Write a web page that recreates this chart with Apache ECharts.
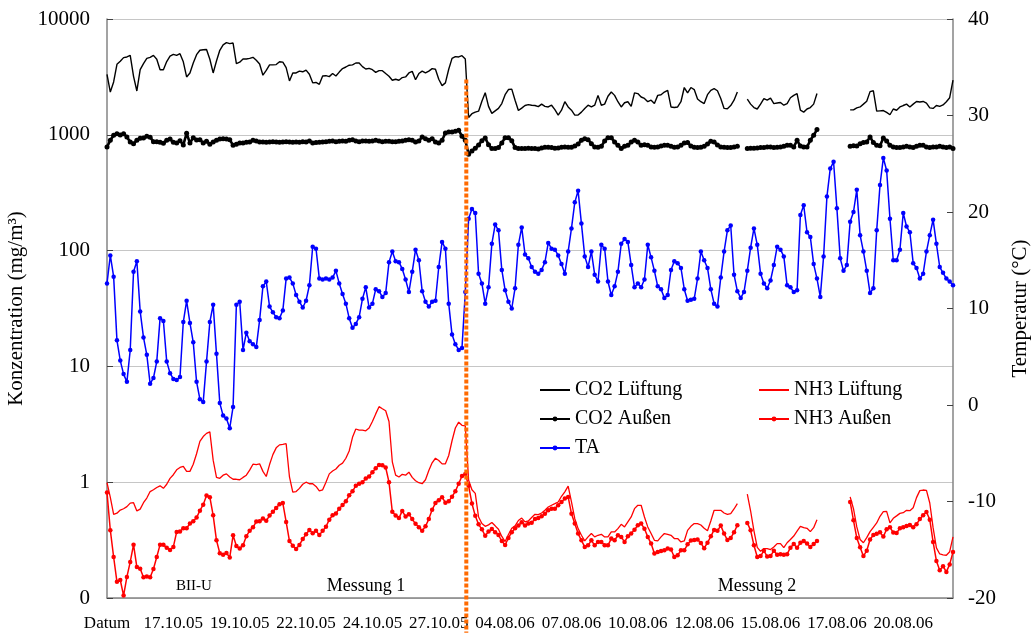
<!DOCTYPE html>
<html>
<head>
<meta charset="utf-8">
<script src="https://cdn.jsdelivr.net/npm/echarts@6/dist/echarts.min.js"></script>
<style>
html,body{margin:0;padding:0;background:#fff;}
#chart{width:1032px;height:637px;}
</style>
</head>
<body>
<div id="chart"></div>
<script>
// Tick labels of the time axis: one label every LABEL_STEP readings (3-hour readings)
const tickLabels = ['Datum','17.10.05','19.10.05','22.10.05','24.10.05','27.10.05','04.08.06','07.08.06','10.08.06','12.08.06','15.08.06','17.08.06','20.08.06'];
const LABEL_STEP = 20;
const N = 256;
// last reading of Messung 1 (the break between both campaigns)
const splitIndex = 108;

// CO2 concentration in the exhaust air (mg/m³)
const co2Lueftung = [3330,2340,2860,4060,4310,4640,4700,4850,3200,2390,
3650,4120,4570,4670,4850,4490,3650,3650,4290,4770,
4950,4850,5020,4270,3160,3420,4170,4920,5370,5430,
5460,4490,3420,4340,5370,5970,6250,6130,6200,4120,
4240,4520,4520,4570,4670,4400,4090,3270,3600,4020,
4020,4040,4270,4240,3800,2920,3420,3420,3550,3500,
3620,3330,2810,2830,2730,3220,3240,3180,3380,3220,
3480,3730,3850,3990,4020,4170,4170,3880,3700,3750,
3650,3460,3580,3580,3380,3200,2960,3020,2960,3120,
3160,3420,3530,2990,3380,3550,3420,3550,3730,3680,
3020,2660,2810,3680,4570,4730,4700,4820,4520,1410,
1520,1570,1600,1950,2310,1760,1530,1610,1690,1860,
2220,2460,2480,1990,1620,1700,1790,1820,1800,1790,
1750,1840,1760,1740,1800,1650,1480,1630,1930,1740,
1630,1480,1480,1570,1690,1800,1740,1800,2190,1800,
1840,2150,2340,2190,1930,1740,1890,1930,1760,2300,
2270,2120,2060,1930,1990,1860,2190,2220,2340,2420,
1740,1720,1740,1930,2560,2300,2560,2460,2040,1930,
1860,2220,2420,2500,2400,2060,1690,1680,1790,1990,
2340,null,null,2030,1840,1720,1670,1840,2050,1990,
2070,1860,1880,1900,1800,1860,2090,2190,2270,1630,
1570,1670,1720,1840,2270,null,null,null,null,null,
null,null,null,null,1640,1640,1710,1740,1840,1950,
2360,2400,1600,1610,1620,1560,1490,1670,1630,1740,
1790,1840,1740,1840,1940,1920,1940,1880,1710,1690,
1790,1760,1810,1930,2090,2960];

// CO2 concentration outside (mg/m³)
const co2Aussen = [785,896,990,1023,996,1023,958,867,839,896,
932,938,970,952,873,873,861,845,896,920,
861,850,890,817,1030,850,945,902,908,850,
878,828,867,896,920,926,920,908,811,828,
850,850,861,867,896,884,867,867,861,867,
873,867,861,867,873,867,861,867,861,873,
867,884,850,856,861,867,873,879,884,873,
879,884,879,896,908,884,873,884,884,879,
884,896,884,873,879,879,873,873,879,884,
896,908,896,867,884,958,926,896,926,867,
850,896,1037,1058,1058,1072,1095,970,896,679,
726,765,817,890,939,822,760,760,775,850,
945,945,890,775,760,760,760,765,760,760,
755,770,780,780,775,765,770,780,785,780,
780,800,833,896,926,908,839,785,780,795,
884,945,945,867,811,760,795,811,867,896,
867,811,822,811,785,780,785,800,811,811,
795,780,785,811,850,856,800,780,775,780,
795,833,879,867,817,785,780,775,775,785,
795,null,null,760,765,765,770,775,775,785,
785,775,780,785,795,811,811,785,896,800,
785,785,896,990,1110,null,null,null,null,null,
null,null,null,null,795,806,800,839,856,867,
958,856,811,806,939,884,811,785,775,775,
785,795,785,775,795,811,811,785,775,785,
785,795,785,775,785,760];

// Outside air temperature TA (°C)
const ta = [12.6,15.5,13.3,6.7,4.6,3.2,2.4,5.7,13.8,14.9,
9.7,7.0,5.2,2.2,2.8,4.5,9.0,8.7,4.5,3.3,
2.7,2.6,2.9,8.6,10.8,8.5,6.5,2.4,0.6,0.3,
4.5,8.6,10.4,5.3,0.2,-1.1,-1.4,-2.4,-0.2,10.4,
10.7,5.7,7.5,6.6,6.3,6.0,8.8,12.3,12.8,10.2,
9.6,9.1,9.0,9.8,13.1,13.2,12.6,11.4,10.7,10.1,
10.8,12.4,16.4,16.2,13.1,13.0,13.1,13.0,13.2,13.9,
12.6,11.5,10.5,9.0,8.0,8.4,9.1,11.0,12.2,10.1,
10.5,12.0,11.8,11.2,11.6,14.8,15.9,14.9,14.8,14.1,
13.0,11.7,13.8,16.1,15.0,11.8,10.7,10.2,10.7,10.8,
14.3,16.9,16.2,10.5,7.3,6.3,5.7,5.9,11.7,19.3,
20.3,19.9,13.6,12.6,10.5,12.2,16.7,18.7,18.1,14.0,
11.9,10.7,10.0,12.1,16.6,18.4,15.6,15.2,14.3,13.8,
13.6,14.0,14.8,16.8,16.2,16.1,15.5,14.6,13.6,15.9,
18.3,21.0,22.2,18.8,15.4,14.3,15.9,13.5,12.8,16.6,
16.2,12.8,11.4,12.3,13.8,16.7,17.2,16.9,14.5,12.2,
12.6,12.2,13.0,16.6,15.3,13.9,12.3,12.0,11.1,11.4,
14.0,14.9,14.7,14.2,12.0,10.8,10.9,11.0,13.1,15.9,
15.0,14.2,12.0,10.5,10.2,13.2,15.9,18.1,18.6,13.5,
11.8,11.1,11.7,13.9,16.3,18.3,16.6,13.6,12.6,12.1,
12.9,14.5,16.4,16.1,15.4,12.4,12.2,11.7,11.9,19.7,
20.7,17.9,17.4,14.6,13.1,11.2,15.4,21.6,24.5,25.2,
20.4,15.2,13.9,14.5,19.0,20.0,22.3,17.6,15.9,13.9,
11.6,12.1,18.1,22.8,25.6,24.3,19.3,15.0,15.0,16.1,
19.9,18.5,17.9,14.7,14.2,13.1,13.6,15.9,17.6,19.2,
16.7,14.3,13.7,13.1,12.8,12.4];

// NH3 concentration in the exhaust air (mg/m³)
const nh3Lueftung = [0.99,0.74,0.527,0.54,0.575,0.59,0.615,0.66,0.665,0.565,
0.585,0.665,0.73,0.83,0.86,0.90,0.93,0.885,0.96,1.08,
1.16,1.28,1.34,1.37,1.24,1.24,1.43,1.76,2.25,2.48,
2.64,2.72,1.55,1.10,1.08,1.15,1.18,1.11,1.06,1.06,
1.05,1.10,1.15,1.27,1.43,1.42,1.44,1.24,1.12,1.42,
1.73,1.98,2.10,2.12,2.15,1.11,0.82,0.83,0.885,0.96,
1.0,0.97,0.97,0.92,0.84,0.86,1.0,1.18,1.25,1.30,
1.40,1.46,1.61,1.86,2.44,2.88,2.82,2.82,2.78,2.94,
3.34,3.89,4.49,4.31,4.14,3.34,1.50,1.15,1.11,1.17,
1.15,1.22,1.10,1.03,0.99,0.97,1.05,1.26,1.47,1.61,
1.54,1.44,1.44,1.70,2.28,2.94,3.30,3.10,3.06,1.04,
0.86,0.80,0.50,0.44,0.416,0.428,0.448,0.42,0.392,0.34,
0.307,0.353,0.40,0.42,0.467,0.49,0.454,0.463,0.495,0.528,
0.525,0.542,0.572,0.611,0.632,0.653,0.675,0.756,0.826,0.926,
0.675,0.484,0.397,0.348,0.311,0.337,0.36,0.337,0.348,0.355,
0.337,0.337,0.372,0.372,0.397,0.433,0.411,0.454,0.501,0.591,
0.632,0.632,0.501,0.411,0.36,0.315,0.311,0.337,0.36,0.355,
0.348,0.326,0.326,0.305,0.311,0.384,0.416,0.439,0.439,0.427,
0.40,0.381,0.462,0.572,0.572,0.572,0.542,0.528,0.535,0.587,
0.653,null,null,0.787,0.564,0.38,0.274,0.253,0.267,0.267,
0.262,0.276,0.295,0.295,0.272,0.30,0.32,0.343,0.378,0.416,
0.405,0.40,0.374,0.405,0.475,null,null,null,null,null,
null,null,null,null,0.746,0.59,0.411,0.32,0.30,0.332,
0.374,0.408,0.445,0.508,0.557,0.56,0.445,0.488,0.512,0.538,
0.545,0.572,0.568,0.602,0.736,0.846,0.856,0.851,0.661,0.405,
0.271,0.24,0.236,0.234,0.251,0.337];

// NH3 concentration outside (mg/m³)
const nh3Aussen = [0.813,0.385,0.226,0.138,0.143,0.105,0.152,0.205,0.289,0.185,
0.179,0.151,0.153,0.151,0.178,0.226,0.289,0.289,0.271,0.26,
0.276,0.372,0.375,0.40,0.40,0.44,0.46,0.495,0.568,0.64,
0.766,0.742,0.518,0.315,0.244,0.236,0.245,0.224,0.348,0.281,
0.267,0.285,0.342,0.38,0.408,0.457,0.46,0.485,0.464,0.515,
0.556,0.60,0.645,0.66,0.454,0.31,0.283,0.265,0.287,0.323,
0.355,0.386,0.362,0.38,0.35,0.38,0.412,0.475,0.518,0.538,
0.591,0.636,0.683,0.771,0.835,0.934,0.97,1.0,1.074,1.12,
1.22,1.32,1.41,1.40,1.34,1.0,0.556,0.515,0.49,0.565,
0.505,0.53,0.48,0.437,0.408,0.38,0.416,0.48,0.578,0.66,
0.70,0.742,0.665,0.683,0.75,0.835,0.97,1.13,1.18,0.93,
0.655,0.512,0.433,0.392,0.345,0.375,0.394,0.37,0.35,0.31,
0.287,0.33,0.37,0.40,0.422,0.45,0.422,0.44,0.446,0.48,
0.49,0.508,0.535,0.572,0.591,0.591,0.632,0.675,0.722,0.746,
0.535,0.439,0.36,0.315,0.276,0.285,0.315,0.285,0.305,0.305,
0.285,0.285,0.326,0.315,0.348,0.337,0.305,0.341,0.36,0.389,
0.425,0.439,0.397,0.337,0.295,0.242,0.25,0.254,0.258,0.267,
0.262,0.226,0.234,0.258,0.258,0.291,0.313,0.317,0.32,0.298,
0.269,0.30,0.341,0.387,0.38,0.422,0.36,0.317,0.33,0.369,
0.425,null,null,0.445,0.384,0.285,0.226,0.23,0.256,0.228,
0.23,0.256,0.236,0.239,0.236,0.239,0.272,0.293,0.271,0.30,
0.31,0.296,0.276,0.293,0.31,null,null,null,null,null,
null,null,null,null,0.675,0.469,0.33,0.274,0.23,0.256,
0.32,0.35,0.358,0.369,0.339,0.392,0.408,0.367,0.365,0.40,
0.408,0.418,0.427,0.408,0.433,0.481,0.518,0.553,0.475,0.305,
0.209,0.174,0.188,0.168,0.195,0.25];

const FONT = '"Liberation Serif", "Times New Roman", serif';
const AXIS_GREY = '#858585';
const categories = Array.from({ length: N }, (_, i) =>
  i % LABEL_STEP === 0 ? tickLabels[i / LABEL_STEP] : '');

const chart = echarts.init(document.getElementById('chart'), null, { renderer: 'canvas' });

const legendBase = {
  orient: 'vertical',
  top: 380,
  padding: 0,
  itemWidth: 30,
  itemHeight: 6,
  itemGap: 9,
  selectedMode: false,
  textStyle: { fontSize: 20, fontFamily: FONT, color: '#000' }
};

chart.setOption({
  animation: false,
  backgroundColor: '#fff',
  textStyle: { fontFamily: FONT },
  grid: { left: 107, right: 79, top: 19, bottom: 39, containLabel: false, outerBoundsMode: 'none' },
  xAxis: {
    type: 'category',
    data: categories,
    boundaryGap: false,
    axisLine: { onZero: false, lineStyle: { color: AXIS_GREY, width: 1.5 } },
    axisTick: { show: false },
    axisLabel: { interval: 0, margin: 17, fontSize: 17, fontFamily: FONT, color: '#000' },
    splitLine: { show: false }
  },
  yAxis: [
    {
      type: 'log', logBase: 10, min: 0.1, max: 10000, position: 'left',
      name: 'Konzentration (mg/m³)', nameLocation: 'middle', nameGap: 76, nameRotate: 90,
      nameTextStyle: { fontSize: 21, fontFamily: FONT, color: '#000' },
      axisLine: { show: true, lineStyle: { color: AXIS_GREY, width: 1.5 } },
      axisTick: { show: true, inside: true, length: 6, lineStyle: { color: '#404040' } },
      axisLabel: {
        margin: 17, fontSize: 21, fontFamily: FONT, color: '#000',
        formatter: v => (v < 1 ? '0' : String(Math.round(v)))
      },
      splitLine: { show: true, lineStyle: { color: '#c6c6c6', width: 1 } }
    },
    {
      type: 'value', min: -20, max: 40, interval: 10, position: 'right',
      name: 'Temperatur (°C)', nameLocation: 'middle', nameGap: 57, nameRotate: 90,
      nameTextStyle: { fontSize: 21, fontFamily: FONT, color: '#000' },
      axisLine: { show: true, lineStyle: { color: AXIS_GREY, width: 1.5 } },
      axisTick: { show: true, inside: true, length: 6, lineStyle: { color: '#404040' } },
      axisLabel: { margin: 15, fontSize: 21, fontFamily: FONT, color: '#000' },
      splitLine: { show: false }
    }
  ],
  legend: [
    Object.assign({}, legendBase, {
      left: 539,
      data: [{ name: 'CO2 Lüftung', itemStyle: { opacity: 0 } }, 'CO2 Außen', 'TA']
    }),
    Object.assign({}, legendBase, {
      left: 758,
      data: [{ name: 'NH3 Lüftung', itemStyle: { opacity: 0 } }, 'NH3 Außen']
    })
  ],
  series: [
    {
      name: 'CO2 Lüftung', type: 'line', yAxisIndex: 0, data: co2Lueftung,
      symbol: 'none', silent: true,
      lineStyle: { color: '#000', width: 1.4 }, itemStyle: { color: '#000' }
    },
    {
      name: 'CO2 Außen', type: 'line', yAxisIndex: 0, data: co2Aussen,
      symbol: 'circle', symbolSize: 5, showAllSymbol: true, silent: true,
      lineStyle: { color: '#000', width: 2.6 }, itemStyle: { color: '#000' }
    },
    {
      name: 'TA', type: 'line', yAxisIndex: 1, data: ta,
      symbol: 'circle', symbolSize: 4.5, showAllSymbol: true, silent: true,
      lineStyle: { color: '#0000ff', width: 1.5 }, itemStyle: { color: '#0000ff' }
    },
    {
      name: 'NH3 Lüftung', type: 'line', yAxisIndex: 0, data: nh3Lueftung,
      symbol: 'none', silent: true,
      lineStyle: { color: '#ff0000', width: 1.3 }, itemStyle: { color: '#ff0000' }
    },
    {
      name: 'NH3 Außen', type: 'line', yAxisIndex: 0, data: nh3Aussen,
      symbol: 'circle', symbolSize: 4.5, showAllSymbol: true, silent: true,
      lineStyle: { color: '#ff0000', width: 1.5 }, itemStyle: { color: '#ff0000' }
    }
  ]
});

// Break between both measuring campaigns and the campaign captions
const xBreak = chart.convertToPixel({ xAxisIndex: 0 }, splitIndex) + 1;
const yBreakTop = chart.convertToPixel({ yAxisIndex: 0 }, 3000);
const yBreakBottom = chart.convertToPixel({ yAxisIndex: 0 }, 0.05);
const caption = (text, x, size) => ({
  type: 'text', x: x, y: 586, z: 50, silent: true,
  style: { text: text, fontSize: size, fontFamily: FONT, fill: '#000', align: 'center', verticalAlign: 'middle' }
});
chart.setOption({
  graphic: [
    {
      type: 'line', z: 100, silent: true,
      shape: { x1: xBreak, y1: yBreakTop, x2: xBreak, y2: yBreakBottom },
      style: { stroke: '#ff6a00', lineWidth: 4, lineDash: [4, 2] }
    },
    caption('BII-U', 194, 15),
    caption('Messung 1', 366, 18),
    caption('Messung 2', 757, 18)
  ]
});
</script>
</body>
</html>
